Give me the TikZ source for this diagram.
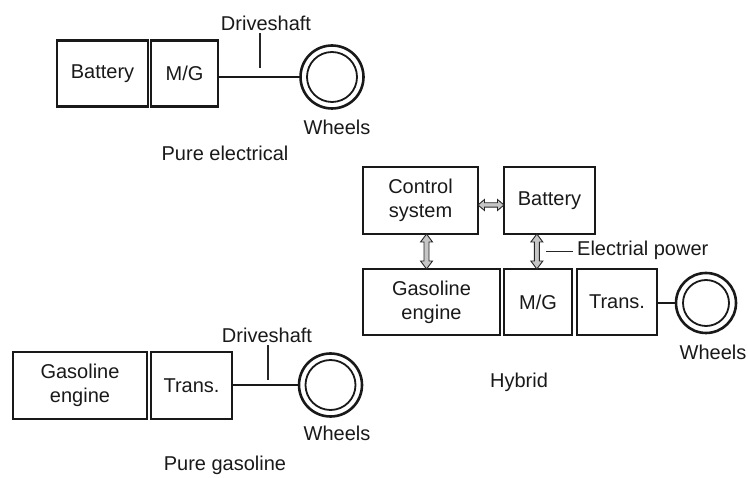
\documentclass[tikz,border=0pt]{standalone}
\usepackage{fontspec}
\setmainfont{Liberation Sans}
\usetikzlibrary{calc}
\begin{document}
\begin{tikzpicture}[x=1pt,y=-1pt,
  every node/.style={font=\fontsize{20}{24}\selectfont, text=black!90},
  box/.style={draw=black!90, line width=2.3pt, minimum height=66pt, align=center, inner sep=0pt},
  wheel/.style={circle, draw=black!90, line width=2.6pt, inner sep=0pt},
  shaft/.style={line width=2.3pt, draw=black!90},
  lead/.style={line width=1.4pt, draw=black!85},
  lbl/.style={inner sep=0pt},
  vdarrow/.pic={\draw[fill=gray!45, draw=black!85, line width=0.9pt]
     (0,-17.5) -- (6,-9.5) -- (2.5,-9.5) -- (2.5,9.5) -- (6,9.5) -- (0,17.5)
     -- (-6,9.5) -- (-2.5,9.5) -- (-2.5,-9.5) -- (-6,-9.5) -- cycle;},
  hdarrow/.pic={\draw[fill=gray!45, draw=black!85, line width=0.9pt]
     (-13,0) -- (-6.5,-5.5) -- (-6.5,-2.2) -- (6.5,-2.2) -- (6.5,-5.5) -- (13,0)
     -- (6.5,5.5) -- (6.5,2.2) -- (-6.5,2.2) -- (-6.5,5.5) -- cycle;}
]
\useasboundingbox (0,0) rectangle (748,478);

% ---------- Pure electrical ----------
\node[box, minimum width=91pt] (bat1) at (102.5,73.5) {Battery};
\node[box, minimum width=67pt] (mg1) at (184.5,73.5) {M/G};
\node[wheel, minimum size=63pt] (w1) at (332,77) {};
\draw[line width=1.8pt, black!90] (w1.center) circle (25pt);
\draw[shaft] (mg1.east |- w1.center) -- (w1.west);
\node[lbl] (ds1) at (266,23) {Driveshaft};
\coordinate (ds1t) at (260,33);
\coordinate (ds1b) at (260,68);
\draw[lead] (ds1t) -- (ds1b);
\node[lbl] (wl1) at (337,127) {Wheels};
\node[lbl] (pe) at (225,153) {Pure electrical};

% ---------- Hybrid ----------
\node[box, minimum width=115pt, minimum height=67pt] (ctrl) at (420.5,200.5) {Control\\system};
\node[box, minimum width=91pt, minimum height=67pt] (bat2) at (549.5,200.5) {Battery};
\node[box, minimum width=137pt] (gas2) at (431.5,302) {Gasoline\\engine};
\node[box, minimum width=68pt] (mg2) at (538,302) {M/G};
\node[box, minimum width=80pt] (tr2) at (617,302) {Trans.};
\node[wheel, minimum size=60pt] (w2) at (706,303) {};
\draw[line width=1.8pt, black!90] (w2.center) circle (23pt);
\draw[shaft] (tr2.east |- w2.center) -- (w2.west);
\node[lbl] (wl2) at (713,352) {Wheels};
\node[lbl] (hy) at (519,382) {Hybrid};

\pic at ($(ctrl.east)!0.5!(bat2.west)+(0,4.5)$) {hdarrow};
\pic at ($(ctrl.south)!0.5!(gas2.north)+(0.5,0)$) {vdarrow};
\coordinate (va2) at ($(bat2.south west)!0.5!(mg2.north west)+(34,0)$);
\pic at (va2) {vdarrow};
\node[lbl, anchor=west] (ep) at (577,250) {Electrial power};
\coordinate (ept) at ($(va2)+(9,0)$);
\draw[lead] (ep.west |- ept) ++(-4,0) -- (ept);

% ---------- Pure gasoline ----------
\node[box, minimum width=134pt, minimum height=67pt] (gas3) at (80,385.5) {Gasoline\\engine};
\node[box, minimum width=81pt, minimum height=67pt] (tr3) at (191.5,385.5) {Trans.};
\node[wheel, minimum size=63pt] (w3) at (330.5,385) {};
\draw[line width=1.8pt, black!90] (w3.center) circle (25pt);
\draw[shaft] (tr3.east |- w3.center) -- (w3.west);
\node[lbl] (ds3) at (267,335) {Driveshaft};
\coordinate (ds3t) at (268,345);
\coordinate (ds3b) at (268,380);
\draw[lead] (ds3t) -- (ds3b);
\node[lbl] (wl3) at (337,433) {Wheels};
\node[lbl] (pg) at (225,465) {Pure gasoline};
\end{tikzpicture}
\end{document}
